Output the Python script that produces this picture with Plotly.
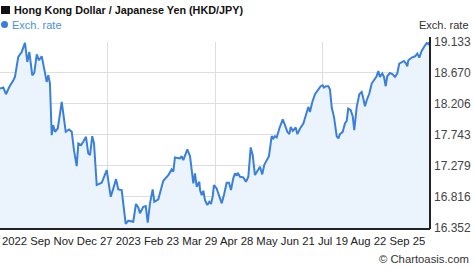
import plotly.graph_objects as go

# Day offsets from the start of the 1-year window, and HKD/JPY exchange rate
days = [
    0.0, 2.8, 5.1, 7.9, 11.3, 12.7, 15.5, 18.4, 21.2, 23.2,
    24.9, 27.4, 29.1, 31.2, 33.1, 35.4, 38.2, 39.6, 41.0, 42.4,
    43.9, 45.2, 46.7, 49.0, 50.1, 52.4, 53.7, 55.8, 58.6, 60.9,
    62.8, 65.1, 66.5, 68.8, 70.7, 73.0, 74.9, 76.4, 78.3, 79.8,
    82.1, 86.3, 90.6, 94.0, 96.2, 98.5, 100.4, 103.3, 106.7, 108.9,
    113.1, 115.4, 117.4, 118.8, 121.6, 123.7, 125.4, 127.3, 129.6, 131.0,
    134.4, 136.4, 138.6, 142.9, 145.7, 147.1, 148.5, 152.8, 154.2, 155.6,
    159.0, 161.3, 164.1, 165.5, 167.0, 169.2, 169.8, 171.2, 172.6, 174.0,
    176.0, 177.7, 179.1, 180.5, 181.6, 183.9, 186.1, 188.2, 190.1, 192.4,
    194.4, 196.1, 198.0, 199.5, 200.9, 201.8, 203.7, 206.5, 208.8, 210.8,
    212.8, 214.5, 216.4, 218.4, 220.7, 222.6, 224.3, 226.4, 228.3, 230.6,
    232.0, 233.4, 234.9, 237.1, 240.0, 241.9, 243.9, 245.6, 246.8, 248.5,
    251.0, 252.4, 254.7, 257.5, 259.7, 261.7, 263.1, 265.1, 267.4, 270.2,
    272.2, 273.9, 275.0, 276.7, 278.7, 280.1, 281.6, 283.5, 285.8, 287.2,
    288.6, 290.9, 292.8, 294.3, 295.6, 297.7, 299.4, 300.7, 302.8, 305.0,
    307.0, 308.4, 309.8, 311.3, 313.5, 315.5, 317.5, 319.7, 321.1, 322.5,
    324.5, 325.9, 327.4, 328.7, 331.0, 333.3, 335.3, 337.2, 338.9, 340.1,
    342.9, 344.6, 345.7, 346.6, 349.5, 352.3, 354.2, 355.9, 357.9, 359.9,
    362.2, 363.5, 364.4,
]
rates = [
    18.436, 18.451, 18.351, 18.460, 18.560, 18.610, 18.909, 18.984, 19.120, 18.834,
    18.984, 18.635, 18.670, 18.949, 18.859, 18.919, 18.670, 18.535, 18.635, 18.511,
    17.738, 17.888, 17.788, 17.838, 17.963, 18.236, 18.063, 17.788, 17.823, 17.788,
    17.514, 17.275, 17.614, 17.589, 17.638, 17.713, 17.465, 17.439, 17.723, 17.614,
    16.991, 17.025, 17.215, 16.816, 16.941, 17.080, 16.926, 16.916, 16.408, 16.457,
    16.442, 16.707, 16.657, 16.568, 16.666, 16.677, 16.427, 16.717, 16.926, 16.741,
    16.777, 16.916, 17.055, 17.140, 17.225, 17.190, 17.405, 17.390, 17.424, 17.365,
    17.524, 17.424, 17.016, 17.166, 16.965, 17.040, 16.916, 16.841, 16.905, 16.766,
    16.692, 16.741, 16.707, 16.816, 16.991, 16.941, 16.826, 16.717, 16.841, 17.025,
    17.025, 16.916, 17.091, 17.166, 17.130, 17.175, 17.115, 17.106, 17.040, 17.115,
    17.554, 17.439, 17.140, 17.190, 17.264, 17.151, 17.290, 17.364, 17.424, 17.723,
    17.689, 17.723, 17.704, 17.838, 17.973, 17.888, 17.788, 17.753, 17.862, 17.802,
    17.853, 17.753, 17.838, 17.913, 18.037, 18.161, 18.086, 18.236, 18.351, 18.411,
    18.471, 18.486, 18.451, 18.471, 18.471, 18.421, 18.152, 18.012, 17.723, 17.689,
    17.753, 17.788, 17.913, 17.952, 18.137, 18.112, 18.022, 17.813, 18.161, 18.351,
    18.385, 18.287, 18.172, 18.261, 18.361, 18.511, 18.571, 18.620, 18.699, 18.610,
    18.661, 18.610, 18.471, 18.620, 18.670, 18.650, 18.610, 18.661, 18.810, 18.819,
    18.849, 18.810, 18.770, 18.859, 18.900, 18.919, 18.960, 18.900, 18.999, 19.058,
    19.118, 19.099, 19.133,
]

y_ticks = [16.352, 16.816, 17.279, 17.743, 18.206, 18.670, 19.133]
x_grid = [0, 91, 182.5, 274]
x_labels = ["2022", "Sep", "Nov", "Dec 27", "2023", "Feb 23", "Mar 29", "Apr 28", "May",
            "Jun 21", "Jul 19", "Aug 22", "Sep 25"]
title = "Hong Kong Dollar / Japanese Yen (HKD/JPY)"
series_name = "Exch. rate"

LINE = "#3a80db"
FONT = "Liberation Sans, Arial, sans-serif"

fig = go.Figure()
fig.add_trace(go.Scatter(
    x=days, y=rates, mode="lines",
    line=dict(color=LINE, width=2),
    fill="tozeroy", fillcolor="#ebf4fd",
    hoverinfo="skip", showlegend=False,
))

fig.update_layout(
    width=474, height=269,
    margin=dict(l=0, r=44, t=42, b=40, autoexpand=False),
    paper_bgcolor="white", plot_bgcolor="white",
    font=dict(family=FONT, size=12, color="#333"),
    xaxis=dict(range=[0, 365], tickvals=x_grid, showticklabels=False,
               showgrid=True, gridcolor="#dedede", gridwidth=1, zeroline=False,
               showline=False, fixedrange=True, automargin=False),
    yaxis=dict(range=[16.333, 19.133], side="right", tickvals=y_ticks,
               ticktext=[f"{v:.3f}" for v in y_ticks],
               showgrid=True, gridcolor="#dedede", gridwidth=1, zeroline=False,
               showline=False, ticks="", ticklabelstandoff=3, automargin=False,
               tickfont=dict(size=12, color="#444"), fixedrange=True),
    showlegend=False,
)

# Axis lines
fig.add_shape(type="line", xref="paper", yref="paper", x0=0, x1=1, y0=0, y1=0,
              line=dict(color="#222", width=2))
fig.add_shape(type="line", xref="paper", yref="paper", x0=1, x1=1, y0=0, y1=1.027,
              line=dict(color="#222", width=2))

# Title with black square
fig.add_shape(type="rect", xref="paper", yref="paper",
              x0=1/430, x1=10/430, y0=(229-14)/187, y1=(229-6)/187,
              fillcolor="#111", line=dict(width=0))
fig.add_annotation(text=f"<b>{title}</b>", xref="paper", yref="paper",
                   x=12/430, y=(229-10)/187, xanchor="left", yanchor="middle",
                   showarrow=False, font=dict(size=10.8, color="#111", family=FONT))
# Legend
fig.add_shape(type="circle", xref="paper", yref="paper",
              x0=1/430, x1=8/430, y0=(229-28)/187, y1=(229-21)/187,
              fillcolor=LINE, line=dict(width=0))
fig.add_annotation(text=series_name, xref="paper", yref="paper",
                   x=10/430, y=(229-24.5)/187, xanchor="left", yanchor="middle",
                   showarrow=False, font=dict(size=11, color="#4a8fe0", family=FONT))
# Right axis title
fig.add_annotation(text=series_name, xref="paper", yref="paper",
                   x=471/430, y=(229-25)/187, xanchor="right", yanchor="middle",
                   showarrow=False, font=dict(size=11, color="#333", family=FONT))
# X labels
fig.add_annotation(text=" ".join(x_labels), xref="paper", yref="paper",
                   x=0, y=(229-241)/187, xanchor="left", yanchor="middle",
                   showarrow=False, font=dict(size=11.3, color="#222", family=FONT))
# Credit
fig.add_annotation(text="© Chartoasis.com", xref="paper", yref="paper",
                   x=471/430, y=(229-259)/187, xanchor="right", yanchor="middle",
                   showarrow=False, font=dict(size=11.3, color="#333", family=FONT))

fig.write_html("out.html")
